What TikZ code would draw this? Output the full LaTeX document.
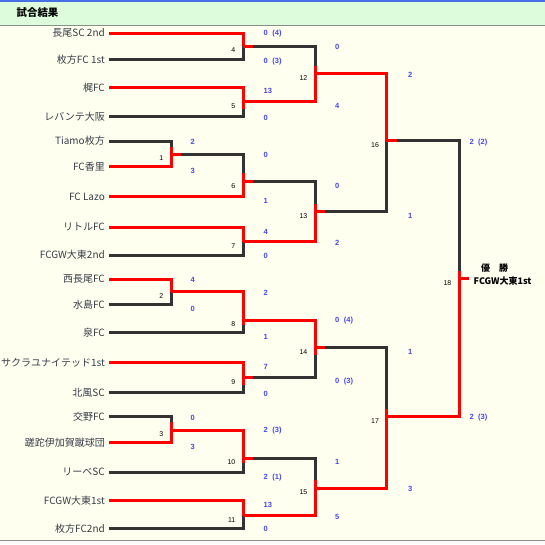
\documentclass[tikz,border=0pt]{standalone}
\usepackage{fontspec}
\newfontfamily\jpfont{Noto Sans CJK JP}
\newfontfamily\numfont{Liberation Sans}
\definecolor{bgivory}{RGB}{255,255,240}
\definecolor{headgreen}{RGB}{220,252,220}
\definecolor{topblue}{RGB}{70,110,230}
\definecolor{rulegray}{RGB}{140,140,140}
\definecolor{lostline}{RGB}{51,51,51}
\definecolor{scoreblue}{RGB}{70,70,240}
\definecolor{teamgray}{RGB}{55,60,70}
\newcommand{\pk}[2]{#1\hspace{4.5pt}(#2)}
\tikzset{won/.style={draw=red, line width=3pt},
  lost/.style={draw=lostline, line width=3pt},
  team/.style={anchor=east, inner xsep=4pt, inner ysep=0pt, text=teamgray, font=\jpfont\fontsize{10}{10}\selectfont},
  score/.style={anchor=west, inner sep=0pt, text=scoreblue, font=\numfont\bfseries\fontsize{7.5}{8}\selectfont},
  matchno/.style={anchor=east, inner sep=0pt, font=\numfont\fontsize{7}{7}\selectfont},
  champ/.style={inner sep=0pt, font=\jpfont\bfseries\fontsize{9}{9}\selectfont}}

\begin{document}
\begin{tikzpicture}[x=1pt, y=-1pt]
\useasboundingbox (0,0) rectangle (545,544);
% page and header
\fill[bgivory] (0,0) rectangle (545,544);
\fill[headgreen] (0,0) rectangle (545,25);
\fill[topblue] (0,0) rectangle (545,1.5);
\draw[rulegray, line width=1pt] (0,25) -- (545,25);
\fill[white!97!gray] (0,541) rectangle (545,544);
\draw[rulegray, line width=1.2pt] (0,540.5) -- (545,540.5);
\node[anchor=west, inner sep=0pt, font=\jpfont\bfseries\fontsize{10.4}{10.4}\selectfont] (title) at (16.5,13) {試合結果};

% teams
\node[team] (t1) at (109,33.3) {長尾SC 2nd};
\node[team] (t2) at (109,59.3) {枚方FC 1st};
\node[team] (t3) at (109,87.3) {梶FC};
\node[team] (t4) at (109,116.7) {レバンテ大阪};
\node[team] (t5) at (109,141) {Tiamo枚方};
\node[team] (t6) at (109,166.7) {FC香里};
\node[team] (t7) at (109,196.7) {FC Lazo};
\node[team] (t8) at (109,227.3) {リトルFC};
\node[team] (t9) at (109,255) {FCGW大東2nd};
\node[team] (t10) at (109,279) {西長尾FC};
\node[team] (t11) at (109,304.3) {水島FC};
\node[team] (t12) at (109,332.7) {泉FC};
\node[team] (t13) at (109,362.7) {サクラユナイテッド1st};
\node[team] (t14) at (109,392.7) {北風SC};
\node[team] (t15) at (109,416.7) {交野FC};
\node[team] (t16) at (109,442.3) {蹉跎伊加賀蹴球団};
\node[team] (t17) at (109,472.3) {リーベSC};
\node[team] (t18) at (109,500.7) {FCGW大東1st};
\node[team] (t19) at (109,528.7) {枚方FC2nd};

% matches: exit point m, kink k where the colour changes
\foreach \m/\x/\e/\k in {1/171/154/146.7, 2/171/291.7/291.7, 3/171/430/421.7,
    4/243/46/46, 5/243/101.7/109.3, 6/243/181.7/173.3, 7/243/241.7/241.7,
    8/243/320/325, 9/243/377.3/385, 10/243/458/463.3, 11/243/515.7/516,
    12/315/73.3/66, 13/315/211.7/203.7, 14/315/347.7/355, 15/315/488/480,
    16/386.7/140.7/141.7, 17/386.7/416.7/409, 18/459/278.3/271}
  {\coordinate (m\m) at (\x,\e);
   \coordinate (k\m) at (\x,\k);}

% losers
\draw[lost] (t5.east) -| (k1);
\draw[lost] (t11.east) -| (k2);
\draw[lost] (t15.east) -| (k3);
\draw[lost] (t2.east) -| (k4);
\draw[lost] (t4.east) -| (k5);
\draw[lost] (m1) -| (k6);
\draw[lost] (t9.east) -| (k7);
\draw[lost] (t12.east) -| (k8);
\draw[lost] (t14.east) -| (k9);
\draw[lost] (t17.east) -| (k10);
\draw[lost] (t19.east) -| (k11);
\draw[lost] (m4) -| (k12);
\draw[lost] (m6) -| (k13);
\draw[lost] (m9) -| (k14);
\draw[lost] (m10) -| (k15);
\draw[lost] (m13) -| (k16);
\draw[lost] (m14) -| (k17);
\draw[lost] (m16) -| (k18);

% winners
\draw[won] (t6.east) -| (k1);
\draw[won] (t10.east) -| (k2);
\draw[won] (t16.east) -| (k3);
\draw[won] (t1.east) -| (k4);
\draw[won] (t3.east) -| (k5);
\draw[won] (t7.east) -| (k6);
\draw[won] (t8.east) -| (k7);
\draw[won] (m2) -| (k8);
\draw[won] (t13.east) -| (k9);
\draw[won] (m3) -| (k10);
\draw[won] (t18.east) -| (k11);
\draw[won] (m5) -| (k12);
\draw[won] (m7) -| (k13);
\draw[won] (m8) -| (k14);
\draw[won] (m11) -| (k15);
\draw[won] (m12) -| (k16);
\draw[won] (m15) -| (k17);
\draw[won] (m17) -| (k18);
\foreach \m in {1,...,18}
  \draw[won] (m\m) -- ++(10,0);

% match numbers
\foreach \m in {1,...,18}
  \node[matchno] (n\m) at ([shift={(-7.5,4.5)}]m\m) {\m};

% scores
\foreach \s/\x/\y/\txt in {1a/190.5/142.3/2, 1b/190.5/171/3, 2a/190.5/280/4, 2b/190.5/309.3/0,
    3a/190.5/417.7/0, 3b/190.5/447/3,
    4a/263.5/34/\pk{0}{4}, 4b/263.5/62/\pk{0}{3}, 5a/263.5/90.7/13, 5b/263.5/117.7/0,
    6a/263.5/155/0, 6b/263.5/201/1, 7a/263.5/231.7/4, 7b/263.5/256/0,
    8a/263.5/293.3/2, 8b/263.5/337.3/1, 9a/263.5/367.3/7, 9b/263.5/394/0,
    10a/263.5/431/\pk{2}{3}, 10b/263.5/477.3/\pk{2}{1}, 11a/263.5/505/13, 11b/263.5/529.3/0,
    12a/335/46.7/0, 12b/335/106/4, 13a/335/185.7/0, 13b/335/242.7/2,
    14a/335/321/\pk{0}{4}, 14b/335/382/\pk{0}{3}, 15a/335/461.7/1, 15b/335/516.7/5,
    16a/408/75/2, 16b/408/216/1, 17a/408/352/1, 17b/408/489/3,
    18a/469.3/142.3/\pk{2}{2}, 18b/469.3/418/\pk{2}{3}}
  \node[score] (sc\s) at (\x,\y) {\txt};

% champion
\node[champ] (champ) at (494.5,268.3) {優　勝};
\node[champ, anchor=west] (champteam) at (473.5,280.7) {FCGW大東1st};
\end{tikzpicture}
\end{document}
